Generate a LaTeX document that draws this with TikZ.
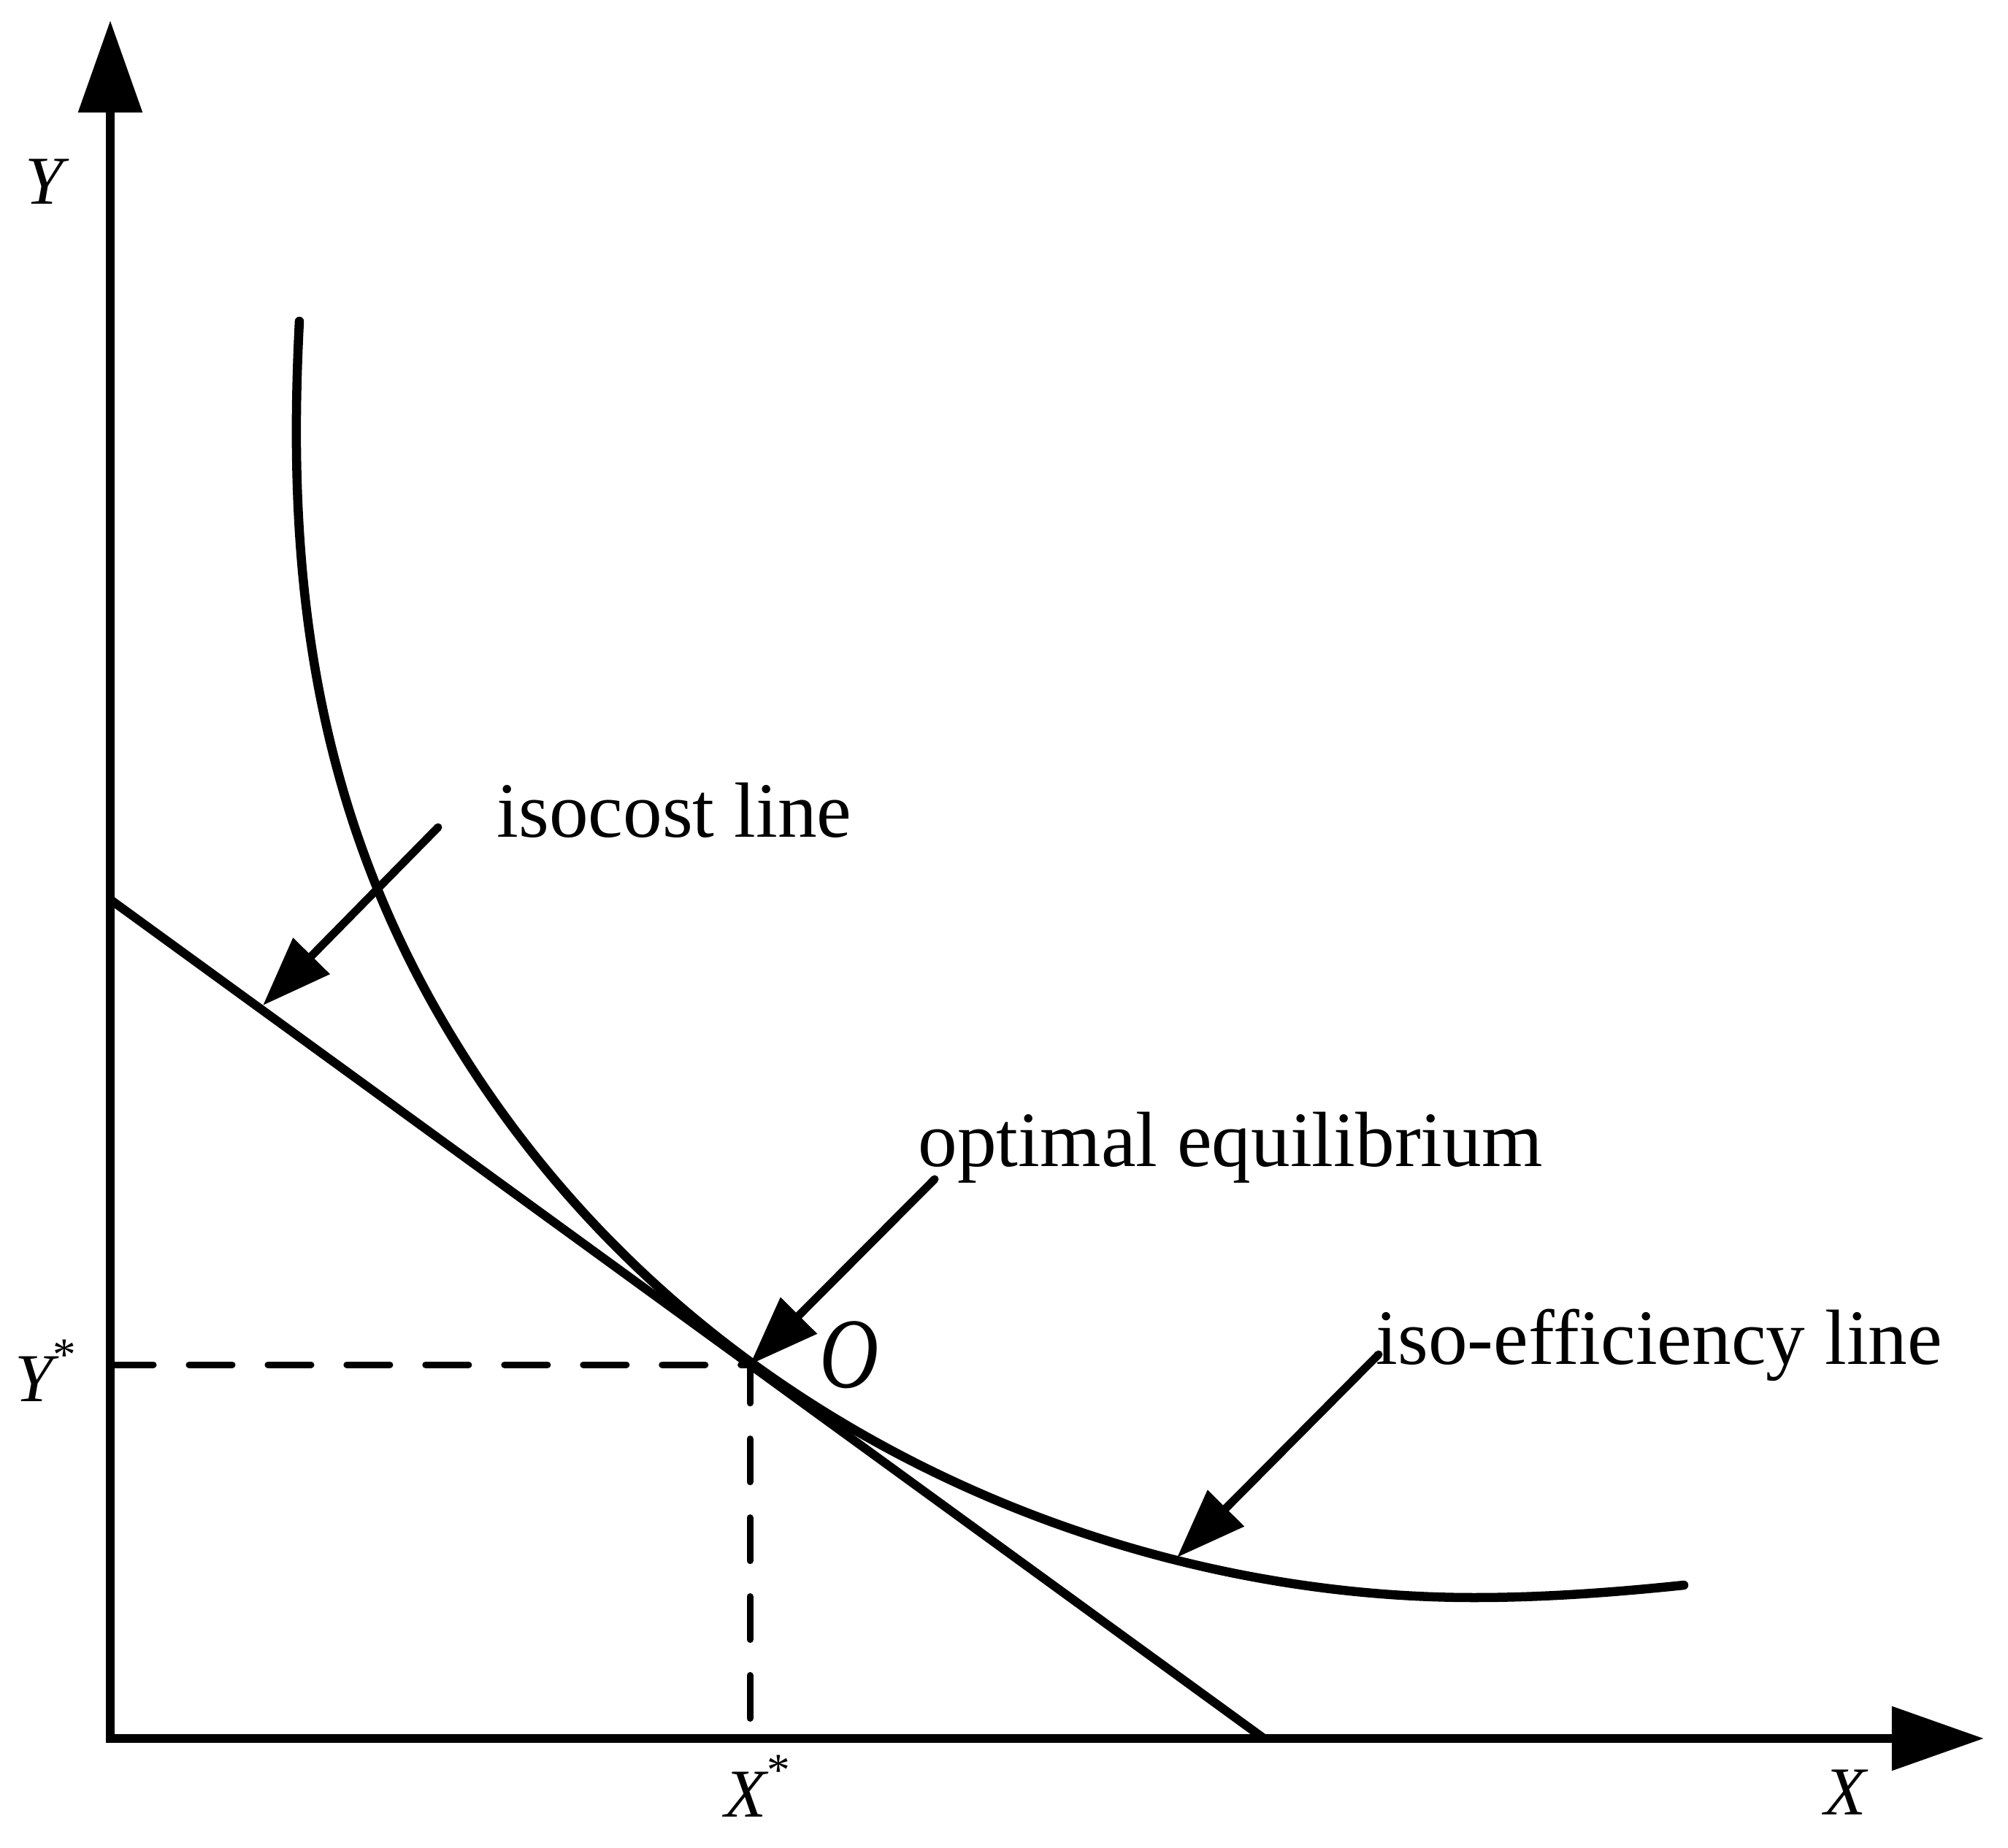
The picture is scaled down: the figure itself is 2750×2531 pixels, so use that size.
\documentclass[tikz,border=0pt]{standalone}
\usepackage{fontspec}
\setmainfont{Liberation Serif}
\usetikzlibrary{arrows.meta}
\newcommand{\mystar}{\raisebox{12pt}{\upshape\fontsize{18pt}{18pt}\selectfont *}}
\begin{document}
\begin{tikzpicture}[x=0.01cm,y=-0.01cm,
  axis/.style={line width=1.25mm, line join=miter, {Triangle[length=12.6mm,width=8.5mm]}-{Triangle[length=12.6mm,width=8.5mm]}},
  thickline/.style={line width=1.25mm, line cap=round},
  guide/.style={line width=0.9mm, line cap=round, dash pattern=on 16.8pt off 13.9pt},
  callout/.style={line width=1.1mm, line cap=round, -{Triangle[length=9.5mm,width=6.8mm]}},
  lbl/.style={inner sep=0pt, font=\fontsize{30.5pt}{36pt}\selectfont, anchor=base west},
  axlbl/.style={inner sep=0pt, font=\fontsize{26.7pt}{32pt}\selectfont\itshape},
]
\useasboundingbox (0,0) rectangle (2750,2531);
% key coordinates
\coordinate (orig) at (151,2381);
\coordinate (ytip) at (151,28);
\coordinate (xtip) at (2717,2381);
\coordinate (O) at (1027,1869);
\coordinate (ystar) at (151,1869);
\coordinate (xstar) at (1027,2381);
\coordinate (icA) at (151,1232);
\coordinate (icB) at (1731,2381);
\coordinate (cA) at (410,440);
\coordinate (cB) at (627,1433);
\coordinate (cC) at (2019,2188);
\coordinate (cD) at (2306,2171);
% axes
\draw[axis] (ytip) -- (orig) -- (xtip);
% isocost line
\draw[line width=1.2mm] (icA) -- (icB);
% iso-efficiency curve
\draw[thickline] (cA) .. controls (393,770) and (422,1103) .. (cB)
  .. controls (732,1603) and (868,1749) .. (1030,1867)
  .. controls (1330,2085) and (1689,2188) .. (cC)
  .. controls (2115,2188) and (2210,2181) .. (cD);
% dashed guides
\draw[guide] (ystar) -- (O);
\draw[guide, dash phase=22.9pt] (xstar) -- (O);
% labels
\node[axlbl, anchor=base] (ylab) at (61,280) {Y};
\node[axlbl, anchor=base] (xlab) at (2527,2485) {X};
\node[axlbl, anchor=base west] (yslab) at (20,1919) {Y\mystar};
\node[axlbl, anchor=base west] (xslab) at (992,2488) {X\mystar};
\node[inner sep=0pt, anchor=base, font=\fontsize{39pt}{44pt}\selectfont\itshape] (olab) at (1163,1900) {\scalebox{0.82}[1]{O}};
\node[lbl] (iclab) at (680,1147) {isocost line};
\node[lbl] (oelab) at (1257,1597) {optimal equilibrium};
\node[lbl] (ielab) at (1884,1868) {iso-efficiency line};
% callout arrows
\coordinate (icS) at (600,1133);
\coordinate (icT) at (360,1377);
\coordinate (oeS) at (1280,1615);
\coordinate (ieS) at (1888,1855);
\coordinate (ieT) at (1612,2133);
\draw[callout] (icS) -- (icT);
\draw[callout] (oeS) -- (O);
\draw[callout] (ieS) -- (ieT);
\end{tikzpicture}
\end{document}
